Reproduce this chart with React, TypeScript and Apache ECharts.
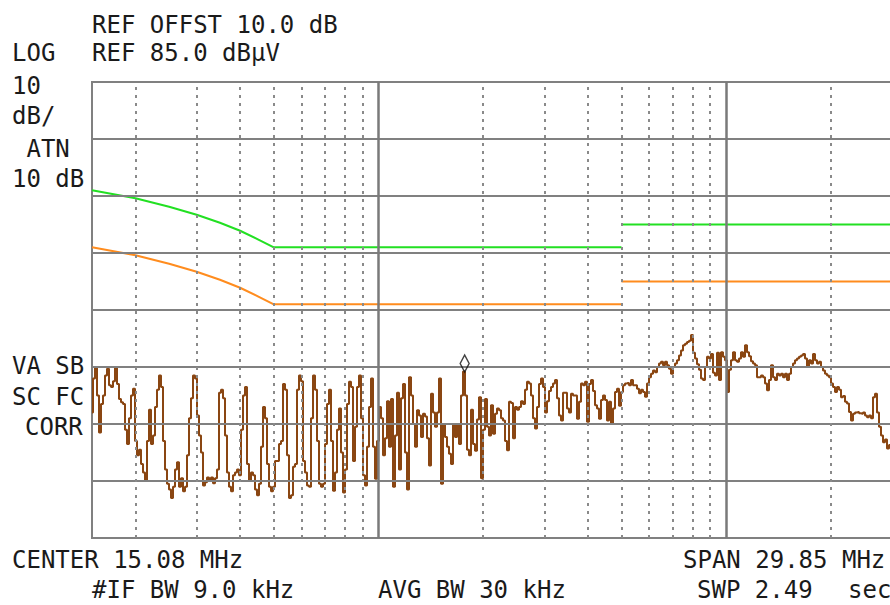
import React, { useEffect, useRef } from 'react';
import * as echarts from 'echarts';

// Sweep (MHz) – 401 log-spaced sweep points
const F_START = 0.15;
const F_STOP = 30;

// Trace readings (dBµV), one per sweep point
const TRACE_DB = [
  27, 33, 35, 30, 23.5, 28.5, 30, 33.5, 34.7, 31.8,
  31.5, 32.5, 34.8, 32, 29.4, 28.8, 28.5, 24, 21.5, 26,
  30, 31.2, 22, 19.5, 20.5, 18, 16.5, 15.2, 22, 27.5,
  21.5, 23, 28, 31, 33.5, 31.5, 22, 17, 14.5, 13.5,
  12, 14, 17, 18.3, 14, 15.5, 13.2, 14, 19.5, 26,
  29.5, 33.5, 33, 26.5, 23, 20, 14.2, 14.8, 15.6, 15,
  15.6, 14.6, 15.5, 17, 30.5, 31, 29.5, 23, 16.5, 14,
  13.2, 16, 16.5, 17, 16, 24, 30, 31.5, 18, 15,
  16.5, 16, 13.5, 12.5, 14.5, 21, 28, 26, 18, 14,
  13.2, 14, 18.5, 18.5, 21.5, 22, 32, 31, 19.5, 12,
  12.5, 17.5, 18, 31, 33.5, 32.5, 18.5, 16.5, 14.2, 14,
  26, 33.5, 31, 22, 14.5, 14, 14.5, 21.5, 28.5, 31,
  22, 13.3, 16.5, 24, 27.7, 20, 13, 17, 28.5, 32.4,
  31.5, 18.5, 24.5, 31.5, 33.5, 26, 16, 14.2, 21, 28,
  33, 21, 15.4, 22, 28, 26, 19.5, 22.5, 29, 21,
  29.4, 14, 23, 30.5, 17, 29.5, 32, 20, 13.5, 33.2,
  30, 25, 21, 27.4, 26.5, 22.7, 26.8, 26.3, 22.5, 17.7,
  30.3, 27, 24.5, 27, 33, 14.5, 25, 22.7, 21, 19.8,
  18, 25, 22.7, 25, 21.5, 30, 34.2, 30, 20.5, 19.5,
  27.5, 21.5, 20.3, 25.8, 29.7, 15.5, 24, 29.4, 24.5, 23,
  28.3, 23.3, 26.8, 27.7, 27.4, 26, 25.6, 22, 20.4, 28.9,
  28.7, 22.5, 28, 27.5, 28, 29, 28.5, 31, 32.4, 32.1,
  30, 26, 24.2, 28, 32, 33, 31.5, 27, 29, 30.8,
  31.5, 32.1, 32.7, 29.5, 26.5, 25.6, 30.5, 30.5, 27.7, 27,
  30.3, 30, 30, 25.9, 28.9, 32.1, 31.8, 32.4, 25.4, 32,
  32.7, 30.8, 28.3, 27.7, 25.9, 29.2, 30, 29.2, 25.6, 28.9,
  25, 27.7, 30.6, 31.2, 28.2, 30.6, 31.8, 32.1, 32.2, 31.8,
  32.7, 31.8, 31.8, 31.2, 30.4, 31, 30.6, 29.8, 32.1, 33.2,
  33.8, 34.4, 34.1, 35, 35.6, 35.9, 35.3, 35.9, 35.3, 34.7,
  33.8, 35, 35.6, 36.2, 37, 37.9, 38.8, 39.1, 39.4, 39.6,
  40.6, 37.5, 36.5, 35.5, 34.5, 33, 32.7, 35, 36.8, 36.5,
  37.3, 34, 33.5, 37.5, 32.7, 37.6, 36.8, 36.2, 30.6, 34.5,
  36.2, 37.6, 36.2, 35.9, 36.5, 37.6, 36.8, 38.8, 37.6, 36.9,
  36, 35.6, 35.3, 33.2, 33.2, 33.5, 33.2, 32.1, 30.9, 32.7,
  35.3, 33.2, 32.7, 33.8, 33.5, 33.8, 33.2, 33.8, 32.7, 33.8,
  35, 35.6, 36.2, 36.5, 36.8, 37, 37.3, 36.5, 35, 36.2,
  35.6, 37.3, 36.2, 35.6, 35.9, 35, 34.4, 33.8, 33.5, 33.2,
  32.1, 31.5, 30.6, 31.5, 31, 29.7, 29.9, 28.9, 28.6, 27.1,
  25.6, 26.8, 27, 27.1, 26.9, 26.8, 27, 26.5, 26.2, 26.5,
  26, 29.7, 30.3, 27, 24.5, 23, 21.8, 22.3, 20.7, 21.3,
  21,
];

// Limit lines [MHz, dBµV]
const QP_LIMIT_LOW = [[0.15, 66], [0.2, 64.6], [0.25, 63.1], [0.3, 61.7], [0.35, 60.3], [0.4, 58.9], [0.45, 57.4], [0.5, 56], [5, 56]];
const QP_LIMIT_HIGH = [[5, 60], [30, 60]];
const AV_LIMIT_LOW = [[0.15, 56], [0.2, 54.6], [0.25, 53.1], [0.3, 51.7], [0.35, 50.3], [0.4, 48.9], [0.45, 47.4], [0.5, 46], [5, 46]];
const AV_LIMIT_HIGH = [[5, 50], [30, 50]];

// Graticule
const REF_LEVEL = 85;
const BOTTOM_LEVEL = 5;
const H_GRID_DB = [15, 25, 35, 45, 55, 65, 75];
const DECADE_MHZ = [1, 10];
const MINOR_MHZ = [0.2, 0.3, 0.4, 0.5, 0.6, 0.7, 0.8, 0.9, 2, 3, 4, 5, 6, 7, 8, 9, 20];

// Marker
const MARKER = [1.77, 35.6];

// Annotation texts
const TEXTS: [string, number, number][] = [
  ['REF OFFST 10.0 dB', 92, 24.5],
  ['LOG', 12, 52.5],
  ['REF 85.0 dBµV', 92, 52.5],
  ['10', 12, 85.5],
  ['dB/', 12, 115.5],
  [' ATN', 12, 149],
  ['10 dB', 12, 179],
  ['VA SB', 12, 365.5],
  ['SC FC', 12, 396.5],
  ['CORR', 25, 427],
  ['CENTER 15.08 MHz', 12, 559.5],
  ['SPAN 29.85 MHz', 683, 559.5],
  ['#IF BW 9.0 kHz', 92, 589.5],
  ['AVG BW 30 kHz', 378, 589.5],
  ['SWP 2.49', 697, 589.5],
  ['sec', 848, 589.5],
];

const FONT = '24px "DejaVu Sans Mono", "Liberation Mono", monospace';

export default function App() {
  const ref = useRef<HTMLDivElement>(null);
  useEffect(() => {
    document.body.style.margin = '0';
    const chart = echarts.init(ref.current!, null, { renderer: 'svg', width: 900, height: 605 });
    const n = TRACE_DB.length;
    const traceData = TRACE_DB.map((v, i) => [F_START * Math.pow(F_STOP / F_START, i / (n - 1)), v]);

    const gridLineData: any[] = [
      ...H_GRID_DB.map((v) => ({ yAxis: v, lineStyle: { color: '#808080', width: 2, type: 'solid' } })),
      ...MINOR_MHZ.map((v) => ({ xAxis: v, lineStyle: { color: '#8a8a8a', width: 2, type: [3, 5] } })),
      ...DECADE_MHZ.map((v) => ({ xAxis: v, lineStyle: { color: '#7a7a7a', width: 2.5, type: 'solid' } })),
    ];

    const limitStyle = (color: string) => ({
      type: 'line',
      showSymbol: false,
      symbol: 'none',
      silent: true,
      z: 3,
      lineStyle: { color, width: 2 },
    });

    chart.setOption({
      animation: false,
      backgroundColor: '#ffffff',
      grid: {
        left: 92,
        top: 82,
        right: 8,
        bottom: 67,
        show: true,
        borderColor: '#808080',
        borderWidth: 2,
        backgroundColor: 'transparent',
      },
      xAxis: {
        type: 'log',
        logBase: 10,
        min: F_START,
        max: F_STOP,
        axisLine: { show: false },
        axisTick: { show: false },
        axisLabel: { show: false },
        splitLine: { show: false },
      },
      yAxis: {
        type: 'value',
        min: BOTTOM_LEVEL,
        max: REF_LEVEL,
        axisLine: { show: false },
        axisTick: { show: false },
        axisLabel: { show: false },
        splitLine: { show: false },
      },
      series: [
        {
          type: 'line',
          data: [],
          silent: true,
          z: 1,
          markLine: {
            silent: true,
            symbol: ['none', 'none'],
            label: { show: false },
            animation: false,
            data: gridLineData,
          },
        },
        { ...limitStyle('#22e022'), data: QP_LIMIT_LOW },
        { ...limitStyle('#22e022'), data: QP_LIMIT_HIGH },
        { ...limitStyle('#ff8c1e'), data: AV_LIMIT_LOW },
        { ...limitStyle('#ff8c1e'), data: AV_LIMIT_HIGH },
        {
          type: 'line',
          data: traceData,
          step: 'middle',
          showSymbol: false,
          symbol: 'none',
          silent: true,
          z: 4,
          lineStyle: { color: '#8a4612', width: 2 },
        },
        {
          type: 'scatter',
          data: [MARKER],
          symbol: 'diamond',
          symbolSize: [9, 17],
          silent: true,
          z: 6,
          itemStyle: { color: 'rgba(255,255,255,0)', borderColor: '#111111', borderWidth: 1.5 },
        },
      ],
      graphic: TEXTS.map(([t, x, y]) => ({
        type: 'text',
        x,
        y,
        silent: true,
        style: {
          text: t,
          font: FONT,
          fill: '#1a1a1a',
          align: 'left',
          verticalAlign: 'middle',
          textAlign: 'left',
          textVerticalAlign: 'middle',
        },
      })),
    });
    return () => chart.dispose();
  }, []);
  return (
    <div style={{ width: 890, height: 605, overflow: 'hidden', background: '#fff' }}>
      <div ref={ref} style={{ width: 900, height: 605 }} />
    </div>
  );
}
